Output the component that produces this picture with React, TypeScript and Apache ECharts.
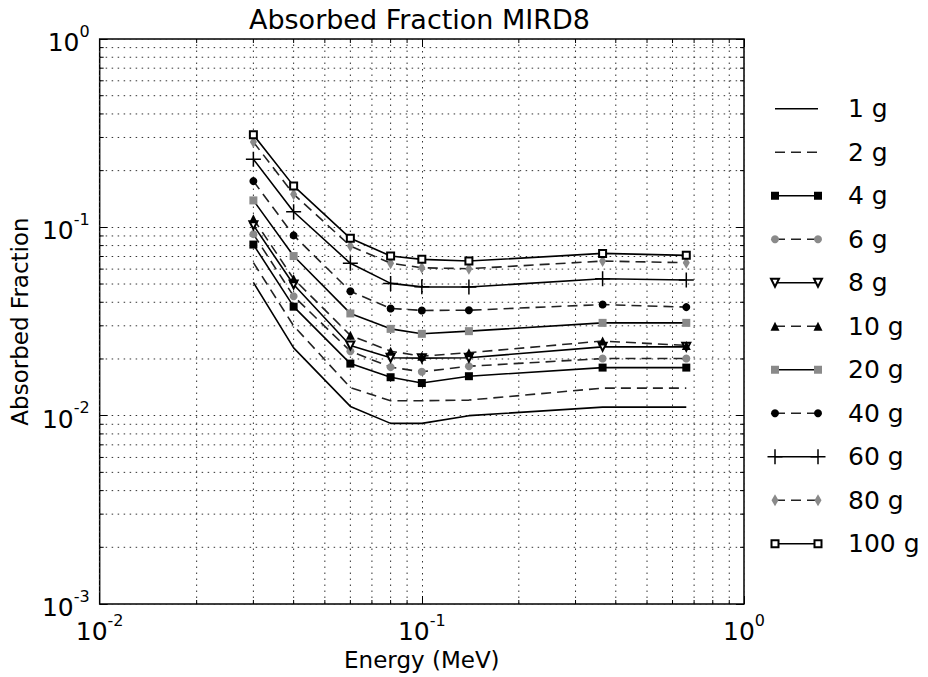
import React, { useEffect, useRef } from 'react';
import * as echarts from 'echarts';

// ---- data ----
const energies = [0.03, 0.04, 0.06, 0.08, 0.1, 0.14, 0.364, 0.662];
const masses = ['1 g', '2 g', '4 g', '6 g', '8 g', '10 g', '20 g', '40 g', '60 g', '80 g', '100 g'];
const af1g = [0.051, 0.0229, 0.0112, 0.0091, 0.0091, 0.01, 0.0111, 0.0111];
const af2g = [0.065, 0.03, 0.0141, 0.012, 0.012, 0.0121, 0.014, 0.014];
const af4g = [0.081, 0.0379, 0.0189, 0.016, 0.0149, 0.0162, 0.018, 0.018];
const af6g = [0.092, 0.0431, 0.022, 0.0181, 0.0171, 0.0183, 0.0201, 0.0201];
const af8g = [0.1026, 0.0497, 0.0236, 0.0203, 0.0202, 0.0203, 0.0232, 0.0232];
const af10g = [0.111, 0.0533, 0.0267, 0.022, 0.0207, 0.0216, 0.0249, 0.0236];
const af20g = [0.139, 0.0704, 0.0349, 0.0289, 0.0272, 0.0281, 0.0311, 0.0311];
const af40g = [0.176, 0.0906, 0.0458, 0.0371, 0.0362, 0.0363, 0.0389, 0.0377];
const af60g = [0.23, 0.121, 0.0644, 0.0504, 0.0483, 0.0482, 0.0533, 0.0525];
const af80g = [0.284, 0.15, 0.0796, 0.0645, 0.061, 0.0603, 0.0662, 0.0649];
const af100g = [0.31, 0.166, 0.0874, 0.0704, 0.0676, 0.0662, 0.0727, 0.071];
const allValues = [af1g, af2g, af4g, af6g, af8g, af10g, af20g, af40g, af60g, af80g, af100g];

const xRange = [0.01, 1];
const yRange = [0.001, 1];
const minorMultipliers = [2, 3, 4, 5, 6, 7, 8, 9];

// ---- styles ----
const FONT = 'DejaVu Sans';
const GRAY = '#8a8a8a';
const DASH = [10, 6];
const PLUS = 'path://M-1,-0.1 L1,-0.1 L1,0.1 L-1,0.1 Z M-0.1,-1 L0.1,-1 L0.1,1 L-0.1,1 Z';

type Sty = { dashed: boolean; symbol: string; size?: any; color?: string; rotate?: number; empty?: boolean };
const styles: Sty[] = [
  { dashed: false, symbol: 'none' },
  { dashed: true, symbol: 'none' },
  { dashed: false, symbol: 'rect', size: 8, color: '#000' },
  { dashed: true, symbol: 'circle', size: 8, color: GRAY },
  { dashed: false, symbol: 'emptyTriangle', size: 8, color: '#000', rotate: 180, empty: true },
  { dashed: true, symbol: 'triangle', size: 9, color: '#000' },
  { dashed: false, symbol: 'rect', size: 8, color: GRAY },
  { dashed: true, symbol: 'circle', size: 8, color: '#000' },
  { dashed: false, symbol: PLUS, size: 15, color: '#000' },
  { dashed: true, symbol: 'diamond', size: [7, 12], color: GRAY },
  { dashed: false, symbol: 'emptyRect', size: 7, color: '#000', empty: true },
];

function seriesStyle(s: Sty) {
  return {
    symbol: s.symbol,
    symbolSize: s.size ?? 0,
    symbolRotate: s.rotate ?? 0,
    showSymbol: s.symbol !== 'none',
    lineStyle: { color: s.dashed ? '#222' : '#000', width: 1.6, type: s.dashed ? DASH : 'solid' },
    itemStyle: { color: s.color ?? '#000', borderColor: s.color ?? '#000', borderWidth: s.empty ? 1 : 0 },
    emphasis: { disabled: true },
  };
}

const tickFormatter = (v: number) => {
  const e = Math.round(Math.log10(v));
  return `{b|10}{s|${e}}`;
};
const tickRich = {
  b: { fontFamily: FONT, fontSize: 25, color: '#000', verticalAlign: 'bottom', lineHeight: 32 },
  s: { fontFamily: FONT, fontSize: 16, color: '#000', verticalAlign: 'top', lineHeight: 18 },
};

const gridLine = { color: '#333', width: 1, type: [1.5, 4.5] };

export default function App() {
  const ref = useRef<HTMLDivElement>(null);
  useEffect(() => {
    document.body.style.margin = '0';
    const chart = echarts.init(ref.current!, null, { renderer: 'svg' });

    const minorData: number[][] = [];
    for (let d = Math.log10(xRange[0]); d < Math.log10(xRange[1]); d++) {
      minorMultipliers.forEach((m) => minorData.push([m * Math.pow(10, d), yRange[0] * 10, 0]));
    }
    for (let d = Math.log10(yRange[0]); d < Math.log10(yRange[1]); d++) {
      minorMultipliers.forEach((m) => minorData.push([xRange[0] * 10, m * Math.pow(10, d), 1]));
    }

    const mainSeries = allValues.map((vals, i) => ({
      type: 'line',
      name: masses[i],
      xAxisIndex: 0,
      yAxisIndex: 0,
      data: energies.map((e, j) => [e, vals[j]]),
      z: 3,
      ...seriesStyle(styles[i]),
    }));
    const legendSeries = masses.map((m, i) => ({
      type: 'line',
      name: 'legend ' + m,
      xAxisIndex: 2,
      yAxisIndex: 2,
      data: [[0, m], [1, m]],
      clip: false,
      z: 3,
      ...seriesStyle(styles[i]),
    }));

    const option: any = {
      animation: false,
      backgroundColor: '#fff',
      textStyle: { fontFamily: FONT },
      graphic: [
        {
          type: 'text',
          x: 419.5,
          y: 19,
          style: { text: 'Absorbed Fraction MIRD8', fill: '#000', font: `27px "${FONT}"`, align: 'center', verticalAlign: 'middle' },
        },
      ],
      grid: [
        { left: 95, top: 39, width: 649, height: 565, show: true, borderColor: '#000', borderWidth: 1.5, backgroundColor: 'transparent', containLabel: false },
        { left: 775, top: 87, width: 43, height: 478.5, containLabel: false },
      ],
      xAxis: [
        {
          type: 'log', logBase: 10, gridIndex: 0, min: xRange[0], max: xRange[1], position: 'bottom',
          axisLine: { show: false },
          axisTick: { show: true, inside: true, length: 8, lineStyle: { color: '#000', width: 1 } },
          axisLabel: { formatter: tickFormatter, rich: tickRich, margin: 8, showMinLabel: true, showMaxLabel: true },
          splitLine: { show: true, lineStyle: gridLine },
          name: 'Energy (MeV)', nameLocation: 'middle', nameGap: 44,
          nameTextStyle: { fontFamily: FONT, fontSize: 23, color: '#000' },
        },
        {
          type: 'log', logBase: 10, gridIndex: 0, min: xRange[0], max: xRange[1], position: 'top',
          axisLine: { show: false },
          axisTick: { show: true, inside: true, length: 8, lineStyle: { color: '#000', width: 1 } },
          axisLabel: { show: false }, splitLine: { show: false },
        },
        { type: 'value', gridIndex: 1, min: 0, max: 1, show: false },
      ],
      yAxis: [
        {
          type: 'log', logBase: 10, gridIndex: 0, min: yRange[0], max: yRange[1], position: 'left',
          axisLine: { show: false },
          axisTick: { show: true, inside: true, length: 8, lineStyle: { color: '#000', width: 1 } },
          axisLabel: { formatter: tickFormatter, rich: tickRich, margin: 10, showMinLabel: true, showMaxLabel: true },
          splitLine: { show: true, lineStyle: gridLine },
          name: 'Absorbed Fraction', nameLocation: 'middle', nameGap: 60,
          nameTextStyle: { fontFamily: FONT, fontSize: 23, color: '#000' },
        },
        {
          type: 'log', logBase: 10, gridIndex: 0, min: yRange[0], max: yRange[1], position: 'right',
          axisLine: { show: false },
          axisTick: { show: true, inside: true, length: 8, lineStyle: { color: '#000', width: 1 } },
          axisLabel: { show: false }, splitLine: { show: false },
        },
        {
          type: 'category', gridIndex: 1, data: masses, inverse: true, position: 'right',
          axisLine: { show: false }, axisTick: { show: false }, splitLine: { show: false },
          axisLabel: { fontFamily: FONT, fontSize: 25, color: '#000', margin: 30, align: 'left' },
        },
      ],
      series: [
        {
          type: 'custom',
          name: 'minor grid',
          xAxisIndex: 0,
          yAxisIndex: 0,
          data: minorData,
          encode: { x: 0, y: 1 },
          z: 1,
          silent: true,
          renderItem: (params: any, api: any) => {
            const kind = api.value(2);
            const tick = { stroke: '#000', lineWidth: 1 };
            const gs = { stroke: '#333', lineWidth: 1, lineDash: [1.5, 4.5] };
            if (kind === 0) {
              const v = api.value(0);
              const p1 = api.coord([v, yRange[0]]);
              const p2 = api.coord([v, yRange[1]]);
              return {
                type: 'group',
                children: [
                  { type: 'line', shape: { x1: p1[0], y1: p1[1], x2: p2[0], y2: p2[1] }, style: gs },
                  { type: 'line', shape: { x1: p1[0], y1: p1[1], x2: p1[0], y2: p1[1] - 4 }, style: tick },
                  { type: 'line', shape: { x1: p2[0], y1: p2[1], x2: p2[0], y2: p2[1] + 4 }, style: tick },
                ],
              };
            }
            const v = api.value(1);
            const p1 = api.coord([xRange[0], v]);
            const p2 = api.coord([xRange[1], v]);
            return {
              type: 'group',
              children: [
                { type: 'line', shape: { x1: p1[0], y1: p1[1], x2: p2[0], y2: p2[1] }, style: gs },
                { type: 'line', shape: { x1: p1[0], y1: p1[1], x2: p1[0] + 4, y2: p1[1] }, style: tick },
                { type: 'line', shape: { x1: p2[0], y1: p2[1], x2: p2[0] - 4, y2: p2[1] }, style: tick },
              ],
            };
          },
        },
        ...mainSeries,
        ...legendSeries,
      ],
    };
    chart.setOption(option);
    return () => chart.dispose();
  }, []);
  return <div ref={ref} style={{ width: 928, height: 677 }} />;
}
